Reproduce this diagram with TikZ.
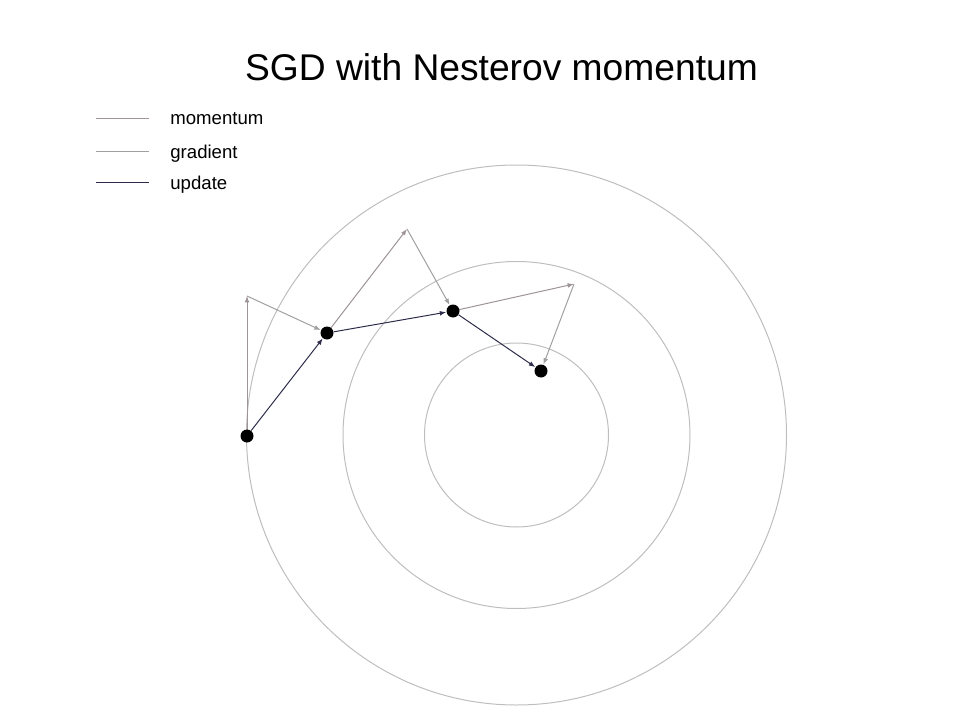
\documentclass[tikz,border=0pt]{standalone}
\usepackage{fontspec}
\setmainfont{Liberation Sans}
\usetikzlibrary{arrows.meta,backgrounds}
\definecolor{momcol}{RGB}{158,148,150}
\definecolor{gradcol}{RGB}{160,160,160}
\definecolor{updcol}{RGB}{45,45,75}
\definecolor{ringcol}{RGB}{190,190,190}

\begin{document}
\begin{tikzpicture}[x=0.5pt, y=0.5pt,
			>={Latex[length=3.2pt,width=2.4pt]},   %small arrow tips
			dot/.style={circle, fill=black, inner sep=0pt, minimum size=6.5pt},
			mom/.style={momcol, line width=0.5pt},
			grad/.style={gradcol, line width=0.5pt},
			upd/.style={updcol, line width=0.5pt},
			ring/.style={ringcol, line width=0.5pt},
			legtext/.style={anchor=base west, inner sep=0pt, font=\fontsize{9.3pt}{11pt}\selectfont}]
			\useasboundingbox (0,0) rectangle (960,720);
			% title
			\node[anchor=base, inner sep=0pt, font=\fontsize{18.6pt}{22pt}\selectfont] (title) at (501.5,640) {SGD with Nesterov momentum};
			% legend
			\coordinate (la1) at (96,602); \coordinate (lb1) at (149,602);
			\coordinate (la2) at (96,569); \coordinate (lb2) at (149,569);
			\coordinate (la3) at (96,538); \coordinate (lb3) at (149,538);
			\draw[mom] (la1) -- (lb1);
			\draw[grad] (la2) -- (lb2);
			\draw[upd] (la3) -- (lb3);
			\node[legtext] (lmom) at (170,596) {momentum};
			\node[legtext] (lgrad) at (170,562) {gradient};
			\node[legtext] (lupd) at (170,531) {update};
			% iterates
			\node[dot] (p0) at (247,284) {};
			\node[dot] (p1) at (327,387) {};
			\node[dot] (p2) at (453,409) {};
			\node[dot] (p3) at (541,349) {};
			% look-ahead points
			\coordinate (m0) at (247,424);
			\coordinate (m1) at (407,491);
			\coordinate (m2) at (574,436);
			\begin{pgfonlayer}{background}
			% level sets
			\coordinate (c) at (516.5,285);
			\draw[ring] (c) circle (92);
			\draw[ring] (c) circle (173.5);
			\draw[ring] (c) circle (270);
			\draw[mom,->] (p0.center) -- (m0);
			\draw[grad,->] (m0) -- (p1);
			\draw[mom,->] (p1.center) -- (m1);
			\draw[grad,->] (m1) -- (p2);
			\draw[mom,->] (p2.center) -- (m2);
			\draw[grad,->] (m2) -- (p3);
			\draw[upd,->] (p0) -- (p1);
			\draw[upd,->] (p1) -- (p2);
			\draw[upd,->] (p2) -- (p3);
			\end{pgfonlayer}
		\end{tikzpicture}
\end{document}
